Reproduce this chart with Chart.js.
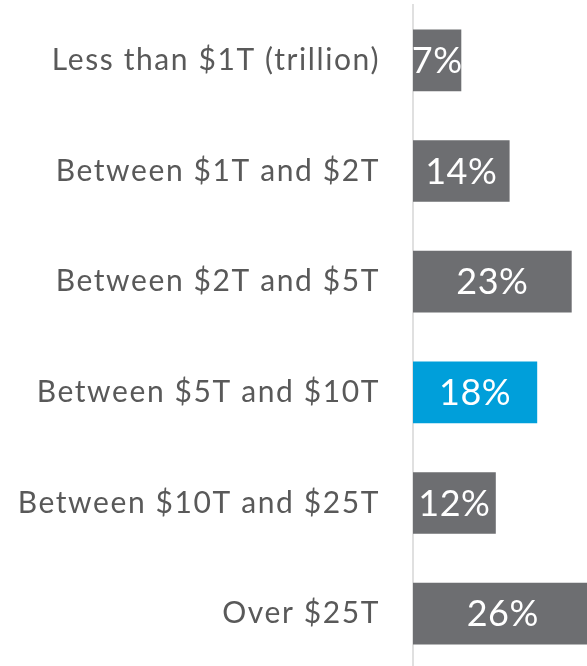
<!DOCTYPE html>
<html>
<head>
<meta charset="utf-8">
<script src="https://cdn.jsdelivr.net/npm/chart.js@4/dist/chart.umd.min.js"></script>
<style>
  html, body { margin: 0; padding: 0; overflow: hidden; background: #ffffff; width: 587px; height: 666px; }
  #wrap { position: absolute; left: 0; top: 0; width: 620px; height: 669px; }
</style>
</head>
<body>
<div id="wrap"><canvas id="chart"></canvas></div>
<script>
// Share of respondents by asset range
const categories = [
  'Less than $1T (trillion)',
  'Between $1T and $2T',
  'Between $2T and $5T',
  'Between $5T and $10T',
  'Between $10T and $25T',
  'Over $25T'
];
const shares = [7, 14, 23, 18, 12, 26];
const highlighted = 'Between $5T and $10T';

const GRAY = '#6d6e71';
const BLUE = '#009fda';
const barColors = categories.map(c => c === highlighted ? BLUE : GRAY);

// Slightly open tracking for the category names
const tracking = {
  id: 'tracking',
  beforeDraw(chart) { chart.ctx.letterSpacing = '1.6px'; }
};

// Percent labels centred inside each bar
const valueLabels = {
  id: 'valueLabels',
  afterDatasetsDraw(chart) {
    const ctx = chart.ctx;
    const meta = chart.getDatasetMeta(0);
    ctx.save();
    ctx.letterSpacing = '0.5px';
    ctx.fillStyle = '#ffffff';
    ctx.font = '36px Lato';
    ctx.textAlign = 'center';
    ctx.textBaseline = 'middle';
    meta.data.forEach((bar, i) => {
      const cx = (bar.x + bar.base) / 2;
      ctx.fillText(shares[i] + '%', cx, bar.y + 1);
    });
    ctx.restore();
  }
};

new Chart(document.getElementById('chart'), {
  type: 'bar',
  data: {
    labels: categories,
    datasets: [{
      data: shares,
      backgroundColor: barColors,
      borderWidth: 0,
      barPercentage: 1,
      categoryPercentage: 0.557
    }]
  },
  options: {
    indexAxis: 'y',
    responsive: true,
    maintainAspectRatio: false,
    animation: false,
    layout: { padding: { top: 5, bottom: 0, left: 0, right: 0 } },
    plugins: {
      legend: { display: false },
      tooltip: { enabled: false }
    },
    scales: {
      x: {
        display: false,
        min: 0,
        max: 30
      },
      y: {
        afterFit(scale) {
          scale.width = 413;
          scale.paddingTop = 0;
          scale.paddingBottom = 0;
        },
        grid: { display: false, drawTicks: false },
        border: { display: true, color: '#e0e0e0', width: 2 },
        ticks: {
          color: '#595959',
          font: { family: 'Lato', size: 30 },
          padding: 33
        }
      }
    }
  },
  plugins: [tracking, valueLabels]
});
</script>
</body>
</html>
